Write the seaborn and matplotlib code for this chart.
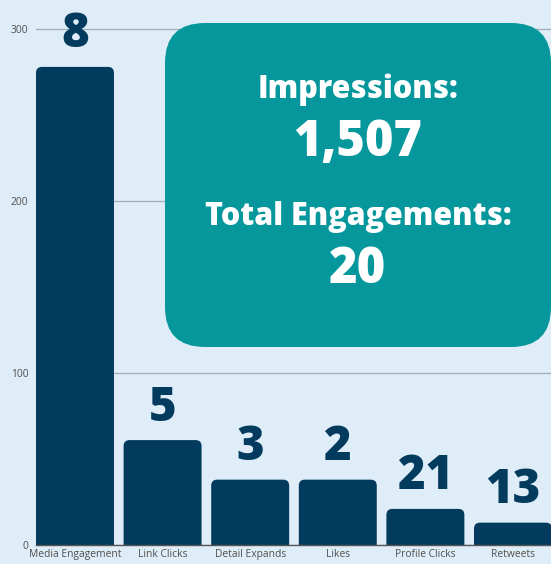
import seaborn as sns
import matplotlib.pyplot as plt
import pandas as pd
from matplotlib.patches import FancyBboxPatch

# data
categories = ['Media Engagement', 'Link Clicks', 'Detail Expands', 'Likes',
              'Profile Clicks', 'Retweets']
bar_values = [278, 61, 38, 38, 21, 13]
bar_labels = ['8', '5', '3', '2', '21', '13']
y_ticks = [0, 100, 200, 300]
impressions = '1,507'
total_engagements = '20'

bg = '#deedf8'
navy = '#033b5e'
teal = '#05979c'

sns.set_style('white')
plt.rcParams['font.family'] = ['Open Sans', 'DejaVu Sans']

df = pd.DataFrame({'category': categories, 'value': bar_values})

fig = plt.figure(figsize=(5.51, 5.64), dpi=100)
fig.patch.set_facecolor(bg)
ax = fig.add_axes([36 / 551, 19 / 564, 1 - 36 / 551, 1 - 19 / 564])
ax.set_facecolor(bg)

sns.barplot(data=df, x='category', y='value', color=navy, saturation=1,
            width=0.89, ax=ax)

ax.set_xlim(-0.445, 5.434)
ax.set_ylim(0, 316.9)
ax.set_yticks(y_ticks)
ax.set_xlabel('')
ax.set_ylabel('')
ax.tick_params(axis='both', length=0, labelsize=7.4, colors='#4f4f4f')
ax.tick_params(axis='x', pad=3)
ax.tick_params(axis='y', pad=5.5)
ax.grid(axis='y', color='#a3adb5', linewidth=0.9)
ax.set_axisbelow(True)
for side in ['top', 'right', 'left']:
    ax.spines[side].set_visible(False)
ax.spines['bottom'].set_color('#555555')
ax.spines['bottom'].set_linewidth(1.0)

# rounded tops: swap the rectangles for rounded boxes of the same size
fig.canvas.draw()
px_x = ax.transData.transform((1, 0))[0] - ax.transData.transform((0, 0))[0]
px_y = ax.transData.transform((0, 1))[1] - ax.transData.transform((0, 0))[1]
r = 6 / px_x
for p in list(ax.patches):
    x0, w, h = p.get_x(), p.get_width(), p.get_height()
    p.set_visible(False)
    ax.add_patch(FancyBboxPatch((x0, -20), w, h + 20,
                                boxstyle=f'round,pad=0,rounding_size={r}',
                                mutation_aspect=px_x / px_y,
                                facecolor=navy, edgecolor='none', zorder=2))

for i, (v, lab) in enumerate(zip(bar_values, bar_labels)):
    ax.annotate(lab, (i, v), xytext=(0, 14), textcoords='offset points',
                ha='center', va='baseline', fontsize=34, fontweight='heavy',
                color=navy, clip_on=False, annotation_clip=False)

# summary box
fig.patches.append(FancyBboxPatch(
    (165 / 551, (564 - 347) / 564), (551 - 165) / 551, 324 / 564,
    boxstyle=f'round,pad=0,rounding_size={40 / 551}',
    mutation_aspect=551 / 564, transform=fig.transFigure,
    facecolor=teal, edgecolor='none', zorder=5, figure=fig))

cx = 358 / 551
fig.text(cx, 1 - 90 / 564, 'Impressions:', ha='center', va='center',
         fontsize=22, fontweight='heavy', color='white', zorder=6)
fig.text(cx, 1 - 143 / 564, impressions, ha='center', va='center',
         fontsize=35, fontweight='heavy', color='white', zorder=6)
fig.text(cx, 1 - 217 / 564, 'Total Engagements:', ha='center', va='center',
         fontsize=22, fontweight='heavy', color='white', zorder=6)
fig.text(cx, 1 - 270 / 564, total_engagements, ha='center', va='center',
         fontsize=35, fontweight='heavy', color='white', zorder=6)

fig.savefig('out.png', dpi=100, facecolor=bg)
